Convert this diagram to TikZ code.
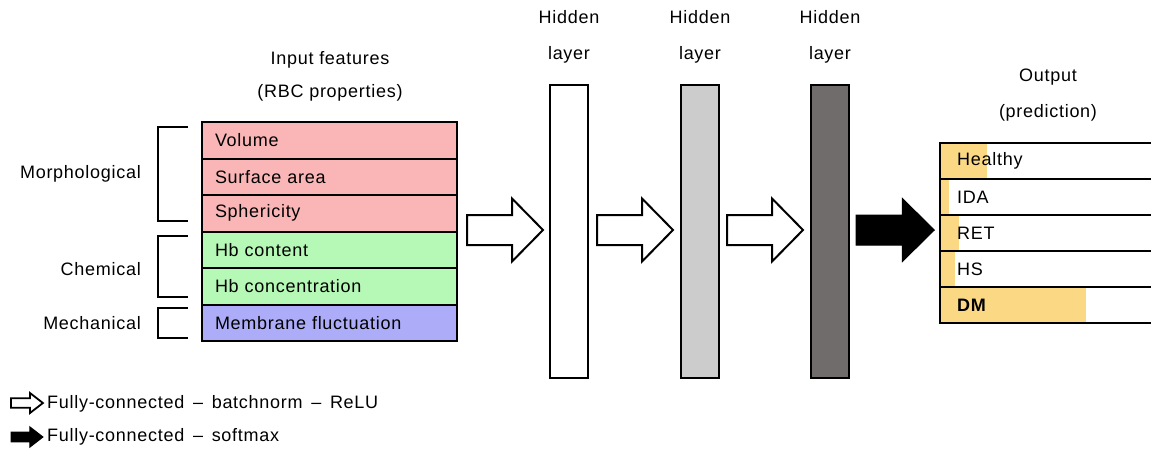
\documentclass[tikz,border=0pt]{standalone}
\usepackage{fontspec}
\setmainfont{Liberation Sans}[LetterSpace=4]
\definecolor{morph}{RGB}{250,182,182}
\definecolor{chem}{RGB}{182,248,182}
\definecolor{mech}{RGB}{172,172,248}
\definecolor{midgray}{RGB}{204,204,204}
\definecolor{darkgray}{RGB}{112,108,108}
\definecolor{prob}{RGB}{250,216,132}
\tikzset{
  txt/.style={font=\fontsize{18}{21}\selectfont, inner sep=0pt},
  feat/.style={draw, line width=2pt, minimum width=255pt, minimum height=36.5pt,
    inner sep=0pt, anchor=north west, text width=229pt, align=left,
    font=\fontsize{18}{21}\selectfont},
  layerbox/.style={draw, line width=2pt, minimum width=38pt, minimum height=293pt,
    inner sep=0pt, anchor=north west},
  outrow/.style={draw, line width=2pt, minimum width=260pt, minimum height=36pt,
    inner sep=0pt, anchor=north west},
  bracket/.style={line width=2pt},
  fat arrow/.pic={
    \path[pic actions] (0,-15) -- (45,-15) -- (45,-31.5) -- (76,0) -- (45,31.5)
      -- (45,15) -- (0,15) -- cycle;},
  hollow/.style={draw=black, fill=white, line width=2pt},
  solid/.style={draw=black, fill=black, line width=1pt},
}
\begin{document}
\begin{tikzpicture}[x=1pt, y=-1pt]
\useasboundingbox (0,0) rectangle (1151,459);
\clip (0,0) rectangle (1151,459);

% input features
\node[txt] (intitle) at (330,60) {Input features};
\node[txt] (insub) at (330,93) {(RBC properties)};
\node[feat, fill=morph] (f1) at (201,121) {Volume};
\node[feat, fill=morph] (f2) at (201,157.5) {Surface area};
\node[feat, fill=morph] (f3) at (201,194) {Sphericity};
\node[feat, fill=chem] (f4) at (201,230.5) {Hb content};
\node[feat, fill=chem] (f5) at (201,267) {Hb concentration};
\node[feat, fill=mech] (f6) at (201,303.5) {Membrane fluctuation};

% feature groups
\draw[bracket] (188,127) -| (158,221) -- (188,221);
\draw[bracket] (188,236) -| (158,297) -- (188,297);
\draw[bracket] (188,308) -| (158,338) -- (188,338);
\node[txt, anchor=east] (gmorph) at (141,174) {Morphological};
\node[txt, anchor=east] (gchem) at (141,269) {Chemical};
\node[txt, anchor=east] (gmech) at (141,323) {Mechanical};

% hidden layers
\node[layerbox, fill=white] (h1) at (549,84) {};
\node[layerbox, fill=midgray] (h2) at (680,84) {};
\node[layerbox, fill=darkgray] (h3) at (810,84) {};
\foreach \n in {h1,h2,h3}{
  \node[txt] at ([yshift=67pt]\n.north) {Hidden};
  \node[txt] at ([yshift=29pt]\n.north) {layer};
}

% transitions between layers
\pic[hollow] at (467,230) {fat arrow};
\pic[hollow] at (597,230) {fat arrow};
\pic[hollow] at (727,230) {fat arrow};
\pic[solid, xscale=1.03] at (856,230) {fat arrow};

% output
\node[txt] (outtitle) at (1048,77) {Output};
\node[txt] (outsub) at (1048,113) {(prediction)};
\fill[prob] (939,142) rectangle (987,178);
\fill[prob] (939,178) rectangle (949,214);
\fill[prob] (939,214) rectangle (959,250);
\fill[prob] (939,250) rectangle (955,286);
\fill[prob] (939,286) rectangle (1086,322);
\node[outrow] (o1) at (939,142) {};
\node[outrow] (o2) at (939,178) {};
\node[outrow] (o3) at (939,214) {};
\node[outrow] (o4) at (939,250) {};
\node[outrow] (o5) at (939,286) {};
\node[txt, anchor=west] at ([xshift=18pt]o1.west) {Healthy};
\node[txt, anchor=west] at ([xshift=18pt]o2.west) {IDA};
\node[txt, anchor=west] at ([xshift=18pt]o3.west) {RET};
\node[txt, anchor=west] at ([xshift=18pt]o4.west) {HS};
\node[txt, anchor=west, font=\fontsize{18}{21}\selectfont\bfseries] at ([xshift=18pt]o5.west) {DM};

% legend
\pic[hollow, line width=1.8pt, xscale=0.42, yscale=0.32] at (11,403) {fat arrow};
\pic[solid, xscale=0.42, yscale=0.32] at (11,437) {fat arrow};
\node[txt, anchor=west] (leg1) at (47,404) {Fully-connected \,--\, batchnorm \,--\, ReLU};
\node[txt, anchor=west] (leg2) at (47,437) {Fully-connected \,--\, softmax};
\end{tikzpicture}
\end{document}
